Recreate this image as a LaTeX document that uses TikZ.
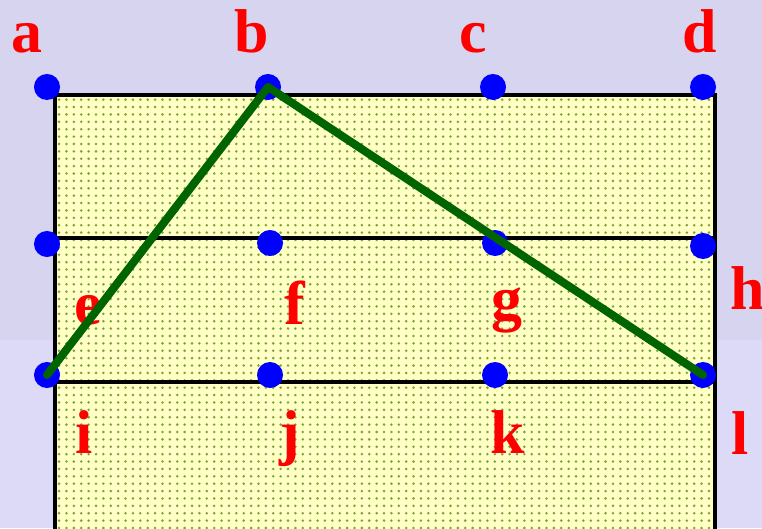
\documentclass[tikz,border=0pt]{standalone}
\usepackage{fontspec}
\setmainfont{Liberation Serif}
\usetikzlibrary{patterns.meta}
\definecolor{sky}{HTML}{D6D4EE}
\definecolor{lavender}{HTML}{DCDAF7}
\definecolor{paper}{HTML}{FFFFC6}
\definecolor{speck}{HTML}{79A533}
\definecolor{darkgreen}{HTML}{006400}
\begin{document}
\begin{tikzpicture}[
    x=0.01cm, y=-0.01cm,
    dot/.style={circle, fill=blue, minimum size=2.6mm, inner sep=0pt},
    lbl/.style={text=red, anchor=base, inner sep=0pt, font=\fontsize{17.6}{20}\selectfont\bfseries},
    grid/.style={line width=1.4pt},
    tri/.style={draw=darkgreen, line width=2.3pt, line cap=round, line join=round}
]
    \useasboundingbox (0,0) rectangle (762,528);
    \fill[sky] (0,0) rectangle (762,340);
    \fill[lavender] (0,340) rectangle (762,528);

    % board
    \fill[paper] (55,95) rectangle (715,529);
    \fill[pattern={Dots[distance=2.1pt, radius=0.4pt]}, pattern color=speck] (55,95) rectangle (715,529);
    \draw[grid] (55,529) -- (55,95) -- (715,95) -- (715,529);
    \draw[grid] (55,238) -- (715,238);
    \draw[grid] (55,382) -- (715,382);

    % points
    \node[dot] (a) at (47,87) {};
    \node[dot] (b) at (268,87) {};
    \node[dot] (c) at (493,87) {};
    \node[dot] (d) at (703,87) {};
    \node[dot] (e) at (47,244) {};
    \node[dot] (f) at (270,243) {};
    \node[dot] (g) at (495,243) {};
    \node[dot] (h) at (703,246) {};
    \node[dot] (i) at (47,375) {};
    \node[dot] (j) at (270,375) {};
    \node[dot] (k) at (495,375) {};
    \node[dot] (l) at (703,375) {};

    % letters
    \node[lbl] (la) at (27,53) {a};
    \node[lbl] (lb) at (252,53) {b};
    \node[lbl] (lc) at (473,53) {c};
    \node[lbl] (ld) at (700,53) {d};
    \node[lbl] (le) at (88,324) {e};
    \node[lbl] (lf) at (295,324) {f};
    \node[lbl] (lg) at (507,319) {g};
    \node[lbl] (lh) at (748,310) {h};
    \node[lbl] (li) at (84,453) {i};
    \node[lbl] (lj) at (290,453) {j};
    \node[lbl] (lk) at (508,453) {k};
    \node[lbl] (ll) at (740,454) {l};

    % triangle
    \draw[tri] (i.center) -- (b.center) -- (l.center);
\end{tikzpicture}
\end{document}
